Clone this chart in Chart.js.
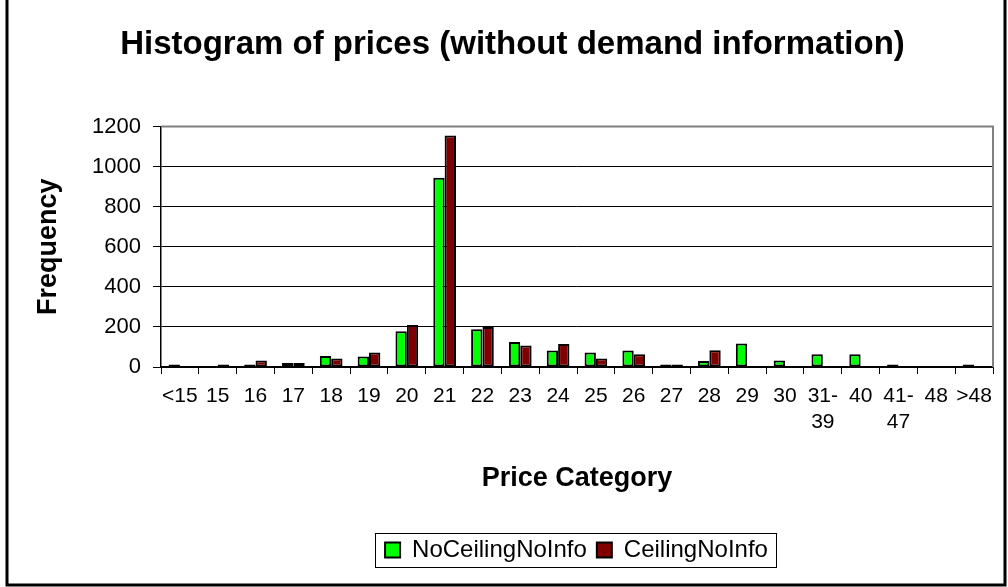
<!DOCTYPE html>
<html>
<head>
<meta charset="utf-8">
<script src="https://cdn.jsdelivr.net/npm/chart.js@4/dist/chart.umd.min.js"></script>
<style>
  html, body { margin: 0; padding: 0; background: #fff; }
  #wrap { width: 1008px; height: 587px; position: relative; }
</style>
</head>
<body>
<div id="wrap"><canvas id="c" width="1008" height="587"></canvas></div>
<script>
const chartTitle = 'Histogram of prices (without demand information)';
const xAxisTitle = 'Price Category';
const yAxisTitle = 'Frequency';
const priceCategories = ['<15','15','16','17','18','19','20','21','22','23','24','25','26','27','28','29','30',['31-','39'],'40',['41-','47'],'48','>48'];
const seriesNames = ['NoCeilingNoInfo', 'CeilingNoInfo'];
const noCeilingNoInfo = [12, 0, 12, 20, 55, 52, 178, 945, 188, 125, 82, 72, 82, 12, 30, 117, 33, 64, 64, 12, 0, 12];
const ceilingNoInfo   = [0, 12, 32, 20, 42, 72, 210, 1156, 200, 107, 115, 42, 64, 12, 84, 0, 0, 0, 0, 0, 0, 0];
const yTicks = [0, 200, 400, 600, 800, 1000, 1200];

const FONT = "'Liberation Sans', Arial, sans-serif";

const framePlugin = {
  id: 'frame',
  afterLayout(chart) {
    const lg = chart.legend;
    if (!lg) return;
    const dx = 64;
    lg.left += dx; lg.right += dx;
    (lg.legendHitBoxes || []).forEach(h => { h.left += dx; });
  },
  beforeDraw(chart) {
    const ctx = chart.ctx;
    ctx.save();
    ctx.fillStyle = '#fff';
    ctx.fillRect(0, 0, chart.width, chart.height);
    ctx.restore();
  },
  afterDraw(chart) {
    const ctx = chart.ctx;
    const a = chart.chartArea;
    ctx.save();
    ctx.strokeStyle = '#808080';
    ctx.lineWidth = 2;
    ctx.beginPath();
    ctx.moveTo(a.left, a.top);
    ctx.lineTo(a.right, a.top);
    ctx.lineTo(a.right, a.bottom);
    ctx.stroke();
    const hb = chart.legend.legendHitBoxes;
    if (hb && hb.length) {
      let l = Infinity, r = -Infinity, t = Infinity, b = -Infinity;
      hb.forEach(h => { l = Math.min(l, h.left); r = Math.max(r, h.left + h.width); t = Math.min(t, h.top); b = Math.max(b, h.top + h.height); });
      ctx.strokeStyle = '#000';
      ctx.lineWidth = 1;
      ctx.strokeRect(Math.round(l - 10) + 0.5, Math.round(t - 5) + 0.5, Math.round(r - l + 18), Math.round(b - t + 10));
    }
    ctx.strokeStyle = '#000';
    ctx.lineWidth = 3;
    ctx.beginPath();
    ctx.moveTo(7, 0);
    ctx.lineTo(7, 585);
    ctx.lineTo(1005, 585);
    ctx.lineTo(1005, 0);
    ctx.stroke();
    ctx.restore();
  }
};

new Chart(document.getElementById('c'), {
  type: 'bar',
  data: {
    labels: priceCategories,
    datasets: [
      { label: seriesNames[0], data: noCeilingNoInfo, backgroundColor: '#00FF00', borderColor: '#000', borderWidth: 2, borderSkipped: false, categoryPercentage: 0.6, barPercentage: 1.0 },
      { label: seriesNames[1], data: ceilingNoInfo, backgroundColor: '#800000', borderColor: '#000', borderWidth: 2, borderSkipped: false, categoryPercentage: 0.6, barPercentage: 1.0 }
    ]
  },
  options: {
    responsive: false,
    animation: false,
    devicePixelRatio: 1,
    layout: { padding: { top: 0, left: 32, right: 15, bottom: 15 } },
    plugins: {
      title: {
        display: true,
        text: chartTitle,
        color: '#000',
        font: { family: FONT, size: 33, weight: 'bold' },
        padding: { top: 25, bottom: 62 }
      },
      legend: {
        display: true,
        position: 'bottom',
        labels: {
          color: '#000',
          font: { family: FONT, size: 24 },
          boxWidth: 15,
          boxHeight: 15,
          padding: 10
        }
      },
      tooltip: { enabled: false }
    },
    scales: {
      x: {
        offset: true,
        grid: { display: true, drawOnChartArea: false, drawTicks: true, tickLength: 7, offset: true, color: '#000' },
        border: { display: true, color: '#000', width: 1.5 },
        ticks: { color: '#000', font: { family: FONT, size: 21 }, padding: 10, maxRotation: 0, autoSkip: false },
        title: { display: true, text: xAxisTitle, color: '#000', font: { family: FONT, size: 27, weight: 'bold' }, padding: { top: 0, bottom: 33 } },
        afterFit(s) { s.height = 161; }
      },
      y: {
        min: 0,
        max: 1200,
        afterBuildTicks(s) { s.ticks = yTicks.map(v => ({ value: v })); },
        grid: { display: true, color: '#000', lineWidth: 1, tickLength: 8, drawTicks: true },
        border: { display: true, color: '#000', width: 1.5 },
        ticks: { color: '#000', font: { family: FONT, size: 22 }, padding: 12, callback: (v) => String(v) },
        title: { display: true, text: yAxisTitle, color: '#000', font: { family: FONT, size: 27, weight: 'bold' }, padding: { top: 0, bottom: 0 } },
        afterFit(s) { s.width = 129; }
      }
    }
  },
  plugins: [framePlugin]
});
</script>
</body>
</html>
